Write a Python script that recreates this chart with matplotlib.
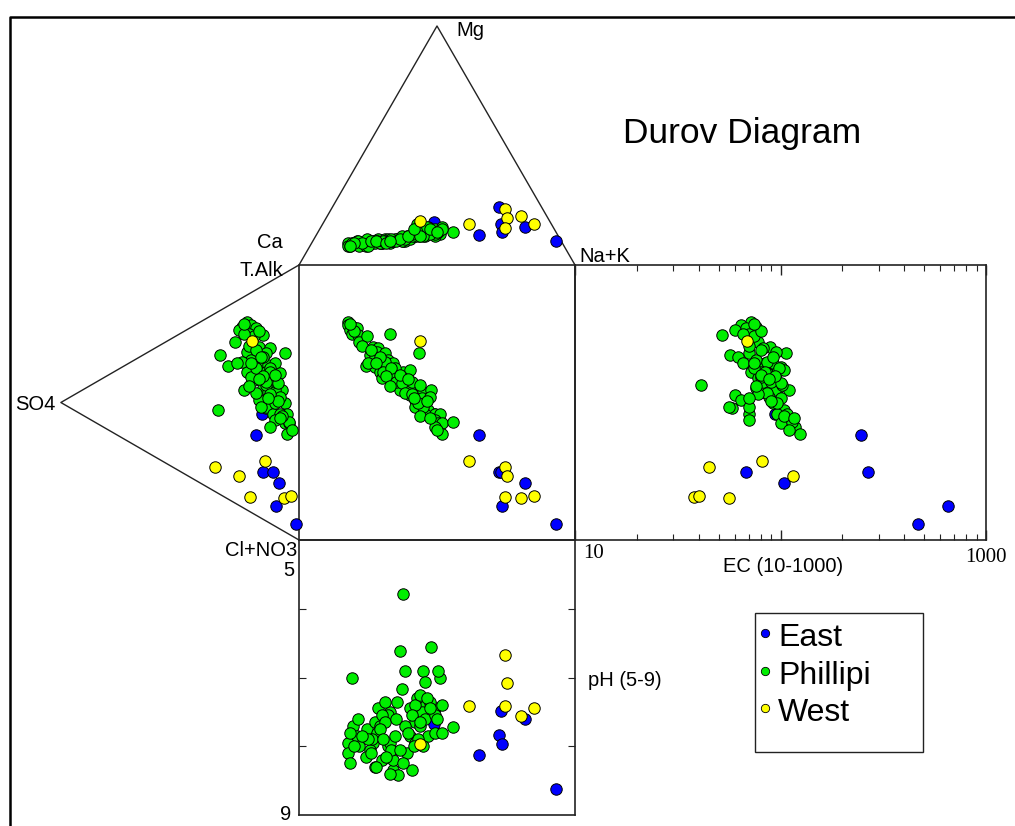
import matplotlib
matplotlib.use('Agg')
import matplotlib.pyplot as plt
import numpy as np
from matplotlib.lines import Line2D
from matplotlib.patches import Rectangle

# ---------------- data (percent of meq, EC, pH) ----------------
groups = ['East', 'Phillipi', 'West']
colors = ['#0000ff', '#00ee00', '#ffff00']

east_na = [39.9, 59.0, 60.5, 64.6, 73.9, 66.6, 87.9]
east_mg = [18.1, 12.6, 24.2, 17.2, 15.8, 14.0, 10.2]
east_so4 = [15.7, 18.1, 15.2, 10.8, 8.6, 9.8, 1.4]
east_cl = [46.3, 52.7, 67.8, 70.0, 74.9, 82.6, 93.6]
east_ec = [94, 246, 68, 267, 104, 651, 465]
east_ph = [7.67, 8.12, 7.83, 7.49, 7.61, 7.96, 8.62]

phil_na = [13.4, 13.6, 15.2, 15.9, 14.5, 14.8, 16.5, 17.7, 19.0, 28.4,
           37.4, 21.9, 23.2, 21.2, 23.1, 25.6, 21.8, 20.1, 22.5, 25.4,
           26.9, 29.1, 24.8, 27.4, 29.9, 32.8, 34.2, 25.4, 27.9, 30.5,
           33.4, 35.5, 31.1, 33.0, 34.7, 34.1, 38.5, 40.5, 36.0, 37.4,
           39.6, 37.3, 36.0, 38.8, 38.6, 41.8, 44.6, 43.3, 43.5, 43.7,
           42.8, 48.9, 44.2, 26.1, 29.3, 32.2, 34.8, 35.3, 40.9, 39.0,
           23.0, 21.1, 29.1, 18.5, 21.0, 25.0, 25.5, 28.0, 30.0, 31.5,
           33.0, 34.5, 36.0, 38.5, 38.0, 40.0, 43.0, 23.0, 27.0, 31.0,
           33.5, 34.0, 15.5, 14.5, 28.0]
phil_mg = [9, 8, 9, 10, 8, 9, 10, 8, 11, 9,
           12, 10, 11, 9, 10, 11, 9, 8, 10, 9,
           11, 10, 9, 10, 11, 10, 12, 9, 10, 11,
           10, 13, 11, 12, 11, 17, 13, 15, 12, 14,
           12, 13, 12, 16, 14, 15, 13, 12, 14, 16,
           13, 14, 15, 10, 11, 10, 12, 17, 13, 12,
           9, 8, 10, 9, 10, 9, 10, 11, 10, 12,
           11, 13, 14, 16, 12, 15, 14, 10, 9, 11,
           12, 15, 9, 8, 10]
phil_so4 = [22, 20, 24, 18, 25, 21, 15, 27, 19, 23,
            6, 17, 12, 33, 22, 14, 18, 30, 16, 13,
            20, 10, 17, 14, 8, 22, 12, 16, 11, 19,
            13, 9, 23, 15, 11, 7, 13, 10, 17, 12,
            6, 14, 14, 34, 11, 5, 8, 10, 6, 4,
            12, 4, 5, 24, 12, 16, 10, 14, 8, 16,
            15, 26, 20, 21, 18, 16, 12, 18, 14, 9,
            18, 12, 10, 9, 7, 8, 3, 20, 15, 10,
            17, 13, 17, 23, 21]
phil_cl = [9.6, 11.8, 10.4, 14.0, 11.1, 14.6, 18.0, 14.4, 16.2, 13.6,
           29.1, 21.2, 24.0, 16.2, 20.5, 25.1, 26.8, 21.7, 29.0, 29.9,
           24.5, 30.8, 30.3, 31.8, 35.4, 27.8, 32.2, 33.2, 35.7, 32.3,
           37.1, 39.8, 34.0, 37.4, 41.8, 42.0, 39.6, 40.5, 40.6, 42.5,
           47.3, 45.1, 44.5, 35.7, 48.5, 51.5, 50.0, 51.4, 54.6, 55.6,
           52.8, 55.2, 59.0, 23.2, 31.6, 32.6, 37.4, 36.6, 43.9, 43.5,
           25.8, 22.8, 30.6, 19.0, 22.0, 25.5, 33.0, 28.5, 35.5, 38.5,
           37.5, 41.0, 45.0, 45.0, 51.5, 51.5, 58.5, 25.5, 33.0, 35.0,
           33.0, 42.0, 15.5, 10.0, 33.5]
phil_ec = [72, 64, 76, 68, 60, 70, 52, 78, 74, 66,
           106, 89, 82, 57, 95, 70, 84, 78, 100, 88,
           76, 92, 80, 96, 86, 72, 104, 90, 78, 84,
           41, 98, 88, 76, 60, 94, 82, 110, 64, 100,
           92, 58, 56, 104, 70, 96, 108, 70, 112, 100,
           118, 114, 124, 86, 74, 94, 82, 102, 88, 70,
           62, 66, 80, 70, 80, 92, 84, 98, 90, 100,
           86, 78, 96, 90, 104, 116, 110, 74, 94, 80,
           88, 70, 80, 74, 76]
phil_ph = [7.95, 8.10, 7.70, 7.85, 8.25, 7.01, 7.60, 8.00, 7.75, 7.50,
           7.40, 7.95, 7.45, 8.05, 7.80, 7.35, 7.90, 8.15, 7.65, 8.20,
           7.55, 8.35, 7.70, 8.00, 7.35, 5.78, 7.85, 7.55, 7.95, 8.42,
           6.90, 7.65, 6.61, 8.10, 7.45, 7.30, 6.90, 6.55, 7.95, 7.50,
           7.06, 7.70, 7.40, 7.85, 7.60, 7.45, 7.01, 7.80, 6.90, 7.81,
           7.55, 7.72, 7.40, 7.65, 7.85, 7.17, 8.35, 7.25, 7.35, 8.00,
           8.30, 7.90, 8.20, 7.85, 8.10, 7.75, 7.90, 8.05, 7.60, 8.25,
           7.70, 7.55, 7.90, 7.30, 7.65, 7.45, 7.60, 8.30, 8.15, 8.05,
           7.80, 8.00, 8.00, 7.80, 8.40]

west_na = [34.7, 53.0, 62.8, 65.6, 66.8, 70.1, 76.7]
west_mg = [18.2, 17.1, 23.5, 19.5, 15.5, 20.6, 17.1]
west_so4 = [19.8, 14.3, 35.3, 25.0, 20.4, 6.5, 3.5]
west_cl = [17.7, 64.3, 55.9, 64.1, 74.3, 81.5, 82.3]
west_ec = [68.7, 81, 44.7, 115, 37.8, 56, 40.3]
west_ph = [7.96, 7.42, 6.67, 7.08, 7.42, 7.56, 7.45]

data = {
    'East': (east_na, east_mg, east_so4, east_cl, east_ec, east_ph),
    'Phillipi': (phil_na, phil_mg, phil_so4, phil_cl, phil_ec, phil_ph),
    'West': (west_na, west_mg, west_so4, west_cl, west_ec, west_ph),
}

# ---------------- layout ----------------
plt.rcParams['font.family'] = ['Liberation Sans', 'DejaVu Sans']
W, H = 1015, 826
fig = plt.figure(figsize=(W / 100, H / 100), dpi=100)
fig.patch.set_facecolor('white')


def fx(px):
    return px / W


def fy(py):
    return 1 - py / H


SQ_L, SQ_R, SQ_T, SQ_B = 299, 575, 265, 540
EC_R = 986
PH_B = 815
sx = (SQ_R - SQ_L) / 100.0
sy = (SQ_B - SQ_T) / 100.0
TOP_H = 0.866 * (SQ_R - SQ_L) / sy      # triangle height in y units
LEFT_D = 0.866 * (SQ_B - SQ_T) / sx     # triangle depth in x units

LINE_C = '#222222'
MS = 68

ax = fig.add_axes([0, 0, 1, 1])
ax.set_xlim(-SQ_L / sx, (W - SQ_L) / sx)
ax.set_ylim(-(H - SQ_B) / sy, SQ_B / sy)
ax.axis('off')

# square and triangles
ax.plot([0, 100, 100, 0, 0], [0, 0, 100, 100, 0], color=LINE_C, lw=1.2)
ax.plot([0, 50, 100], [100, 100 + TOP_H, 100], color=LINE_C, lw=1.0)
ax.plot([0, -LEFT_D, 0], [100, 50, 0], color=LINE_C, lw=1.0)

# EC panel
ax_ec = fig.add_axes([fx(SQ_R), fy(SQ_B), (EC_R - SQ_R) / W, (SQ_B - SQ_T) / H])
ax_ec.set_facecolor('none')
ax_ec.set_xscale('log')
ax_ec.set_xlim(10, 1000)
ax_ec.set_ylim(0, 100)
ax_ec.tick_params(axis='x', which='major', direction='in', top=True, bottom=True,
                  length=7, width=1, labelbottom=False, color=LINE_C)
ax_ec.tick_params(axis='x', which='minor', direction='in', top=True, bottom=True,
                  length=4, width=0.8, labelbottom=False, color=LINE_C)
ax_ec.tick_params(axis='y', left=False, right=False, labelleft=False)
for sp in ax_ec.spines.values():
    sp.set_color(LINE_C)
    sp.set_linewidth(1.2)

# pH panel
ax_ph = fig.add_axes([fx(SQ_L), fy(PH_B), (SQ_R - SQ_L) / W, (PH_B - SQ_B) / H])
ax_ph.set_facecolor('none')
ax_ph.set_xlim(0, 100)
ax_ph.set_ylim(9, 5)
ax_ph.set_yticks([6, 7, 8])
ax_ph.tick_params(axis='y', direction='in', left=True, right=True, length=5,
                  width=0.8, labelleft=False, color=LINE_C)
ax_ph.tick_params(axis='x', bottom=False, top=False, labelbottom=False)
for sp in ax_ph.spines.values():
    sp.set_color(LINE_C)
    sp.set_linewidth(1.2)

# ---------------- points ----------------
for z, (g, c) in enumerate(zip(groups, colors)):
    na, mg, so4, cl, ec, ph = [np.asarray(v, float) for v in data[g]]
    X = na + mg / 2.0
    Y = 100.0 - cl - so4 / 2.0
    kw = dict(s=MS, c=c, edgecolors='black', linewidths=0.7, zorder=3 + z)
    ax.scatter(X, 100 + TOP_H * mg / 100.0, **kw)
    ax.scatter(-LEFT_D * so4 / 100.0, Y, **kw)
    ax.scatter(X, Y, **kw)
    ax_ec.scatter(ec, Y, clip_on=False, **kw)
    ax_ph.scatter(X, ph, clip_on=False, **kw)

# ---------------- labels ----------------
LFS = 14.5


def ptext(px, py, s, **kw):
    fig.text(fx(px), fy(py), s, **kw)


ptext(456, 31, 'Mg', fontsize=LFS, ha='left', va='center')
ptext(283, 242, 'Ca', fontsize=LFS, ha='right', va='center')
ptext(283, 270, 'T.Alk', fontsize=LFS, ha='right', va='center')
ptext(579, 257, 'Na+K', fontsize=LFS, ha='left', va='center')
ptext(56, 405, 'SO4', fontsize=LFS, ha='right', va='center')
ptext(297, 551, 'Cl+NO3', fontsize=LFS, ha='right', va='center')
ptext(289, 570, '5', fontsize=LFS, ha='center', va='center')
ptext(286, 815, '9', fontsize=LFS, ha='center', va='center')
ptext(625, 681, 'pH (5-9)', fontsize=LFS, ha='center', va='center')
ptext(783, 567, 'EC (10-1000)', fontsize=LFS, ha='center', va='center')
ptext(583, 554, '10', fontsize=15, ha='left', va='center', family='Liberation Serif')
ptext(986, 557, '1000', fontsize=15, ha='center', va='center', family='Liberation Serif')
ptext(742, 133, 'Durov Diagram', fontsize=25.5, ha='center', va='center')

# ---------------- legend ----------------
fig.add_artist(Rectangle((fx(755), fy(752)), (923 - 755) / W, (752 - 613) / H,
                         transform=fig.transFigure, facecolor='white',
                         edgecolor=LINE_C, lw=1.0))
leg_y = [633, 671, 708]
for g, c, yy in zip(groups, colors, leg_y):
    fig.add_artist(Line2D([fx(765)], [fy(yy)], marker='o', markersize=6,
                          markerfacecolor=c, markeredgecolor='black',
                          markeredgewidth=0.6, linestyle='none',
                          transform=fig.transFigure))
    ptext(778, yy + 5, g, fontsize=23, ha='left', va='center')

# outer frame
fig.add_artist(Line2D([fx(10), fx(10), 1.0], [0.0, fy(17), fy(17)],
                      color='black', lw=1.8, transform=fig.transFigure))

fig.savefig('out.png', dpi=100)
